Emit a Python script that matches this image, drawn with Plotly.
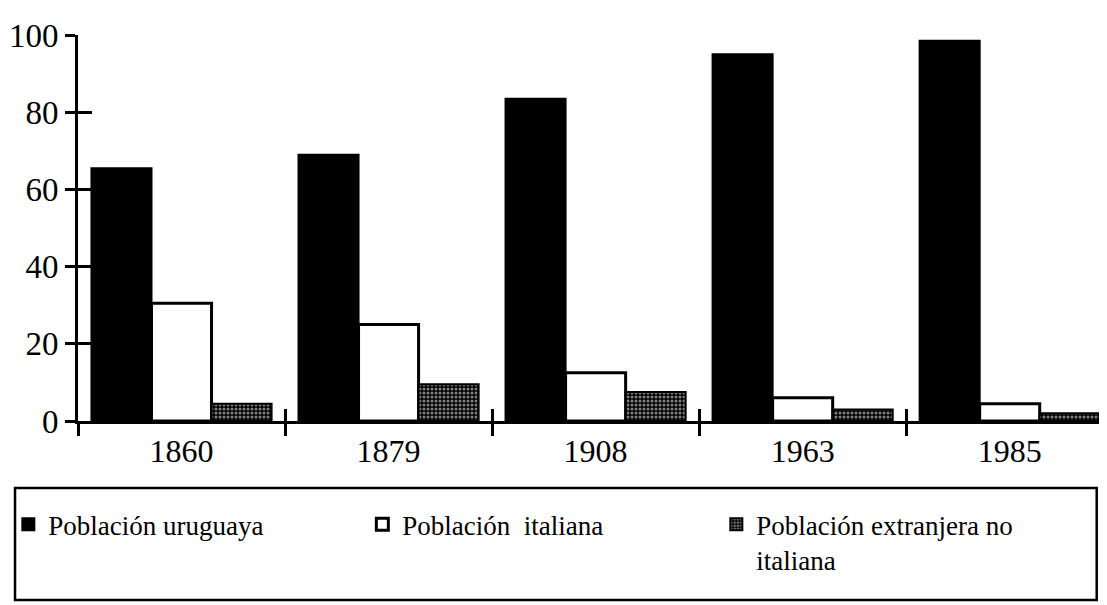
import plotly.graph_objects as go

years = ["1860", "1879", "1908", "1963", "1985"]
uruguaya = [65.5, 69, 83.5, 95, 98.5]
italiana = [30.5, 25, 12.5, 6, 4.5]
extranjera = [4.5, 9.5, 7.5, 3, 2]
y_ticks = [0, 20, 40, 60, 80, 100]

FONT = "Liberation Serif"

fig = go.Figure()
fig.add_trace(go.Bar(name="Población uruguaya", x=years, y=uruguaya,
                     marker=dict(color="black", line=dict(color="black", width=2))))
fig.add_trace(go.Bar(name="Población  italiana", x=years, y=italiana,
                     marker=dict(color="white", line=dict(color="black", width=3))))
fig.add_trace(go.Bar(name="Población extranjera no<br>italiana", x=years, y=extranjera,
                     marker=dict(color="black", line=dict(color="black", width=2),
                                 pattern=dict(shape=".", bgcolor="black", fgcolor="white",
                                              size=4, solidity=0.45))))
# overlay axes used only to draw the inner half of crossing ticks
fig.add_trace(go.Scatter(x=years, y=uruguaya, xaxis="x2", yaxis="y2", mode="markers",
                         marker=dict(opacity=0), showlegend=False, hoverinfo="skip"))

fig.update_layout(
    width=1099, height=597,
    paper_bgcolor="white", plot_bgcolor="white",
    margin=dict(l=70, r=0, t=27, b=184, autoexpand=False),
    barmode="group", bargap=0.13, bargroupgap=0,
    font=dict(family=FONT, color="black", size=32),
    showlegend=True,
    legend=dict(orientation="h", x=-0.0677, y=-0.205, xanchor="left", yanchor="top",
                font=dict(family=FONT, size=27, color="black"),
                entrywidth=309, entrywidthmode="pixels", itemwidth=30,
                bgcolor="rgba(0,0,0,0)", tracegroupgap=0, valign="top"),
    xaxis=dict(type="category", range=[-0.5, 4.47], showline=True, linecolor="black",
               linewidth=3, ticks="outside", tickson="boundaries", ticklen=12,
               tickwidth=3, tickcolor="black", showgrid=False, zeroline=False,
               automargin=False, tickfont=dict(family=FONT, size=32)),
    yaxis=dict(range=[0, 100], tickvals=y_ticks, showline=True, linecolor="black",
               linewidth=3, ticks="outside", ticklen=10, tickwidth=3, tickcolor="black",
               showgrid=False, zeroline=False, automargin=False,
               tickfont=dict(family=FONT, size=33)),
    xaxis2=dict(type="category", categoryarray=years, overlaying="x", range=[-0.5, 4.47],
                ticks="inside", tickson="boundaries", ticklen=12, tickwidth=3,
                tickcolor="black", showticklabels=False, showgrid=False, zeroline=False,
                side="bottom", anchor="y2", automargin=False),
    yaxis2=dict(range=[0, 100], tickvals=y_ticks, overlaying="y", ticks="inside",
                ticklen=14, tickwidth=3, tickcolor="black", showticklabels=False,
                showgrid=False, zeroline=False, side="left", anchor="x2", automargin=False),
    shapes=[dict(type="rect", xref="paper", yref="paper",
                 x0=-0.0612, x1=0.990, y0=-0.4637, y1=-0.1736,
                 line=dict(color="black", width=2.5), fillcolor="rgba(0,0,0,0)")],
)

fig.write_html("out.html")
